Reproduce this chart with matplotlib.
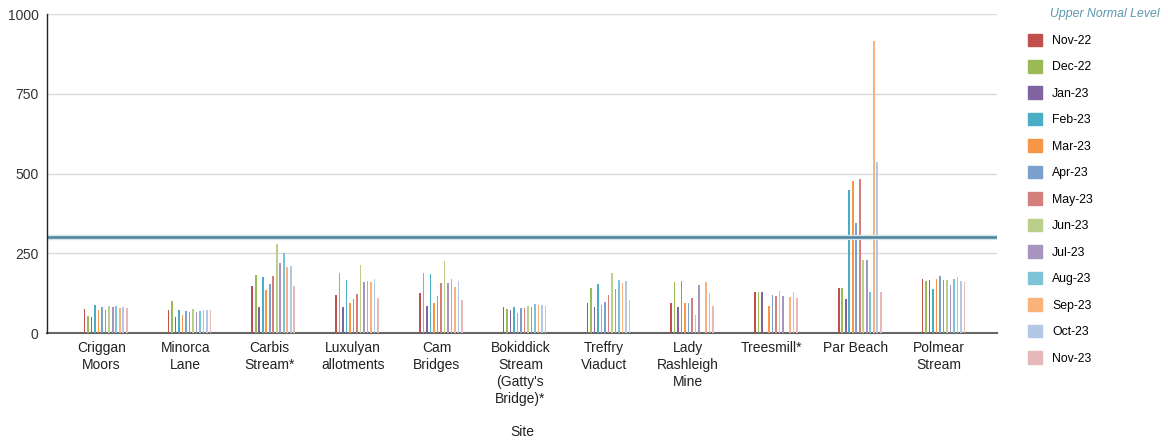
import matplotlib.pyplot as plt
import matplotlib.patches as mpatches
import numpy as np

plt.rcParams['font.family'] = ['Liberation Sans', 'DejaVu Sans']

sites = ['Criggan\nMoors', 'Minorca\nLane', 'Carbis\nStream*', 'Luxulyan\nallotments',
         'Cam\nBridges', "Bokiddick\nStream\n(Gatty's\nBridge)*", 'Treffry\nViaduct',
         'Lady\nRashleigh\nMine', 'Treesmill*', 'Par Beach', 'Polmear\nStream']

months = ['Nov-22', 'Dec-22', 'Jan-23', 'Feb-23', 'Mar-23', 'Apr-23', 'May-23',
          'Jun-23', 'Jul-23', 'Aug-23', 'Sep-23', 'Oct-23', 'Nov-23']

colors = ['#c0504d', '#9bbb59', '#8064a2', '#4bacc6', '#f79646', '#7ba0cd', '#d3807d',
          '#b9cf8a', '#a795c0', '#7dc3d7', '#f9b27c', '#b3c7e6', '#e6b8b7']

nan = np.nan
# values per site, one per month (Nov-22 .. Nov-23)
criggan = [75, 52, 49, 89, 73, 82, 73, 86, 80, 86, 78, 83, 78]
minorca = [73, 99, 49, 71, 55, 70, 67, 76, 67, 70, 72, 71, 71]
carbis = [148, 181, 83, 175, 135, 153, 178, 280, 220, 250, 206, 210, 146]
luxulyan = [120, 188, 82, 167, 95, 107, 123, 214, 160, 164, 160, 170, 111]
cam = [124, 188, 86, 185, 95, 115, 157, 227, 156, 170, 145, 164, 102]
bokiddick = [83, 74, 73, 83, 63, 78, 77, 85, 82, 91, 88, 89, 85]
treffry = [95, 142, 83, 153, 88, 98, 120, 188, 139, 167, 156, 163, 102]
lady = [95, 160, 83, 164, 95, 95, 111, 57, 149, nan, 160, 124, 86]
treesmill = [127, 127, 127, nan, 86, 120, 117, 132, 117, nan, 112, 127, 110]
par = [141, 141, 107, 449, 478, 346, 484, 228, 228, 127, 914, 535, 127]
polmear = [170, 164, 167, 138, 170, 178, 167, 167, 149, 170, 175, 164, 160]

upper_normal = 300

values = np.array([criggan, minorca, carbis, luxulyan, cam, bokiddick, treffry,
                   lady, treesmill, par, polmear], dtype=float)

fig = plt.figure(figsize=(11.68, 4.42), dpi=100)
ax = fig.add_axes([0.040, 0.2466, 0.814, 0.7217])

x = np.arange(len(sites))
step = 0.0418
width = 0.019
handles = []
for j, m in enumerate(months):
    ax.bar(x + (j - 6) * step, values[:, j], width=width, color=colors[j],
           label=m, zorder=3)
    handles.append(mpatches.Patch(color=colors[j], label=m))

# upper normal level line with light halo
ax.axhline(upper_normal, color='#d3e4eb', lw=3.8, zorder=4)
ax.axhline(upper_normal, color='#4d849c', lw=1.8, zorder=5)

ax.set_ylim(0, 1000)
ax.set_xlim(-0.704, 10.644)
ax.set_yticks([0, 250, 500, 750, 1000])
ax.yaxis.grid(True, color='#d9d9d9', lw=1, zorder=0)
ax.set_axisbelow(True)
ax.tick_params(axis='both', length=0, labelsize=10, colors='#333333', pad=6)
ax.set_xticks(x - 0.05)
ax.set_xticklabels(sites, fontsize=10, color='#222222', linespacing=1.25)

for s in ['top', 'right']:
    ax.spines[s].set_visible(False)
ax.spines['left'].set_color('#222222')
ax.spines['left'].set_linewidth(1)
ax.spines['left'].set_zorder(6)
ax.spines['bottom'].set_color('#666666')
ax.spines['bottom'].set_linewidth(1.5)

fig.text(522 / 1168, 1 - 432 / 442, 'Site', ha='center', va='center',
         fontsize=10, color='#222222')

# legend title drawn separately (sits to the right of the squares)
fig.text(1050 / 1168, 1 - 14 / 442, 'Upper Normal Level', ha='left', va='center',
         fontsize=8.8, style='italic', color='#5b96ae')

fig.legend(handles=handles, loc='upper left', bbox_to_anchor=(1019 / 1168, 1 - 25 / 442),
           frameon=False, fontsize=8.8, handlelength=1.2, handleheight=1.2,
           labelspacing=1.07, handletextpad=0.8, borderpad=0.2)

fig.savefig('out.png', dpi=100, facecolor='white')
